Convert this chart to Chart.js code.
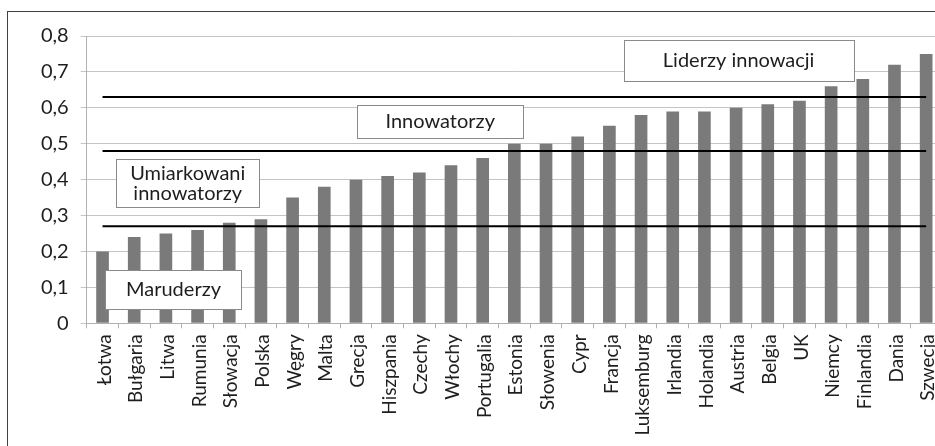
<!DOCTYPE html>
<html>
<head>
<meta charset="utf-8">
<script src="https://cdn.jsdelivr.net/npm/chart.js@4"></script>
<style>
  html, body { margin: 0; padding: 0; background: #fff; width: 935px; height: 446px; overflow: hidden; }
  #frame { position: absolute; left: 7px; top: 11px; width: 1000px; height: 500px;
           border-left: 1px solid #404040; border-top: 1px solid #404040; }
  #chart { position: absolute; left: 0; top: 0; }
</style>
</head>
<body>
<div id="frame"><canvas id="chart" width="934" height="434"></canvas></div>
<script>
// Kraje UE uszeregowane według wskaźnika innowacyjności
const countries = ['Łotwa', 'Bułgaria', 'Litwa', 'Rumunia', 'Słowacja', 'Polska', 'Węgry', 'Malta',
  'Grecja', 'Hiszpania', 'Czechy', 'Włochy', 'Portugalia', 'Estonia', 'Słowenia', 'Cypr', 'Francja',
  'Luksemburg', 'Irlandia', 'Holandia', 'Austria', 'Belgia', 'UK', 'Niemcy', 'Finlandia', 'Dania', 'Szwecja'];
const scores = [0.20, 0.24, 0.25, 0.26, 0.28, 0.29, 0.35, 0.38, 0.40, 0.41, 0.42, 0.44, 0.46, 0.50, 0.50,
  0.52, 0.55, 0.58, 0.59, 0.59, 0.60, 0.61, 0.62, 0.66, 0.68, 0.72, 0.75];
// progi między grupami krajów
const thresholds = [0.27, 0.48, 0.63];
const yTicks = [0, 0.1, 0.2, 0.3, 0.4, 0.5, 0.6, 0.7, 0.8];

// opisy grup (x = indeks kategorii, y = wartość osi)
const groupLabels = [
  { lines: ['Liderzy innowacji'], x: 20.08, y: 0.733, w: 230, h: 41 },
  { lines: ['Innowatorzy'], x: 10.66, y: 0.562, w: 166, h: 33 },
  { lines: ['Umiarkowani', 'innowatorzy'], x: 2.69, y: 0.39, w: 143, h: 48 },
  { lines: ['Maruderzy'], x: 2.24, y: 0.095, w: 136, h: 39 }
];

const FONT = 'Lato, Calibri, "Open Sans", sans-serif';
const TEXT = '#1e1e1e';

// prostokąty z nazwami grup, rysowane nad słupkami
const groupBoxes = {
  id: 'groupBoxes',
  afterDatasetsDraw(chart) {
    const ctx = chart.ctx;
    const xs = chart.scales.x, ys = chart.scales.y;
    ctx.save();
    ctx.font = '20px ' + FONT;
    ctx.textAlign = 'center';
    ctx.textBaseline = 'middle';
    groupLabels.forEach(b => {
      const cx = xs.getPixelForValue(b.x);
      const cy = ys.getPixelForValue(b.y);
      const left = Math.round(cx - b.w / 2) + 0.5;
      const top = Math.round(cy - b.h / 2) + 0.5;
      ctx.fillStyle = '#fff';
      ctx.fillRect(left, top, b.w, b.h);
      ctx.strokeStyle = '#8a8a8a';
      ctx.lineWidth = 1;
      ctx.strokeRect(left, top, b.w, b.h);
      ctx.fillStyle = TEXT;
      const lh = 20;
      b.lines.forEach((t, i) => {
        ctx.fillText(t, cx, cy + (i - (b.lines.length - 1) / 2) * lh);
      });
    });
    ctx.restore();
  }
};

// pionowe etykiety krajów pod osią X (pełna szerokość tekstu)
const countryLabels = {
  id: 'countryLabels',
  afterDraw(chart) {
    const ctx = chart.ctx;
    const xs = chart.scales.x;
    const top = chart.chartArea.bottom + 11;
    ctx.save();
    ctx.font = '19px ' + FONT;
    ctx.fillStyle = TEXT;
    ctx.textAlign = 'right';
    ctx.textBaseline = 'middle';
    xs.ticks.forEach((t, i) => {
      ctx.save();
      ctx.translate(xs.getPixelForTick(i) + 2, top);
      ctx.rotate(-Math.PI / 2);
      ctx.fillText(xs.getLabelForValue(t.value), 0, 0);
      ctx.restore();
    });
    ctx.restore();
  }
};

const thresholdSets = thresholds.map(t => ({
  type: 'line',
  data: [{ x: countries[0], y: t }, { x: countries[countries.length - 1], y: t }],
  borderColor: '#000',
  borderWidth: 2,
  pointRadius: 0,
  order: 0
}));

new Chart(document.getElementById('chart').getContext('2d'), {
  type: 'bar',
  data: {
    labels: countries,
    datasets: [{
      data: scores,
      backgroundColor: '#7a7a7a',
      barPercentage: 0.4,
      categoryPercentage: 1,
      order: 1
    }, ...thresholdSets]
  },
  options: {
    responsive: false,
    animation: false,
    layout: { padding: { top: 22, right: 0, left: 0, bottom: 0 } },
    plugins: { legend: { display: false }, tooltip: { enabled: false } },
    scales: {
      x: {
        grid: { offset: true, drawOnChartArea: false, drawTicks: true, tickLength: 5, color: '#b0b0b0' },
        border: { color: '#b0b0b0' },
        ticks: { display: false, autoSkip: false },
        afterFit: s => { s.height = 122.7; }
      },
      y: {
        min: 0, max: 0.8,
        afterBuildTicks: s => { s.ticks = yTicks.map(v => ({ value: v })); },
        grid: { color: '#c4c4c4', tickLength: 6 },
        border: { color: '#b0b0b0' },
        ticks: {
          color: TEXT, font: { family: FONT, size: 20 }, padding: 12,
          callback: v => String(v).replace('.', ',')
        },
        afterFit: s => { s.width = 78.7; }
      }
    }
  },
  plugins: [groupBoxes, countryLabels]
});
</script>
</body>
</html>
